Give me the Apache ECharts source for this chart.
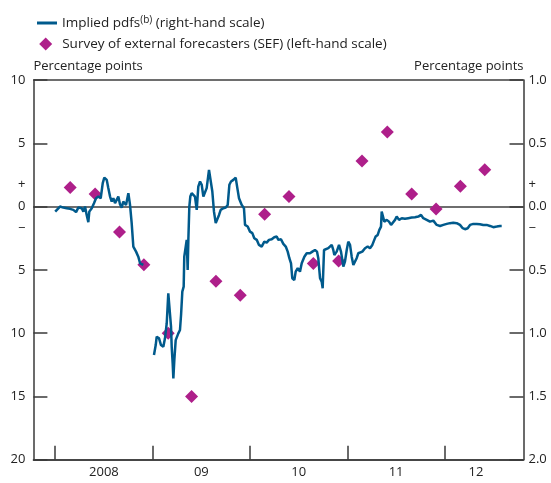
<!DOCTYPE html>
<html>
<head>
<meta charset="utf-8">
<script src="https://cdn.jsdelivr.net/npm/echarts@6/dist/echarts.min.js"></script>
<style>
html,body{margin:0;padding:0;background:#fff;}
#chart{width:551px;height:483px;}
</style>
</head>
<body>
<div id="chart"></div>
<script>
// ---- Data ----
// Implied pdfs (right-hand scale): [decimal year, percentage points]
var pdfYears = [
2008.000,2008.015,2008.049,2008.083,2008.118,2008.152,2008.186,2008.214,2008.237,2008.272,
2008.289,2008.306,2008.323,2008.340,2008.350,2008.375,2008.398,2008.419,2008.443,2008.467,
2008.488,2008.504,2008.529,2008.545,2008.563,2008.580,2008.597,2008.614,2008.631,2008.648,
2008.665,2008.683,2008.699,2008.727,2008.751,2008.768,2008.785,2008.802,2008.830,2008.853,
2008.871,2008.905,2008.960,
2009.014,2009.032,2009.042,2009.066,2009.086,2009.110,2009.127,2009.145,2009.161,2009.179,
2009.189,2009.196,2009.206,2009.213,2009.223,2009.237,2009.251,2009.264,2009.281,2009.292,
2009.305,2009.319,2009.325,2009.340,2009.350,2009.360,2009.367,2009.377,2009.387,2009.401,
2009.418,2009.435,2009.453,2009.469,2009.487,2009.504,2009.521,2009.538,2009.555,2009.579,
2009.597,2009.613,2009.630,2009.648,2009.664,2009.682,2009.699,2009.726,2009.751,2009.771,
2009.788,2009.805,2009.829,2009.853,2009.870,2009.887,2009.915,2009.938,2009.949,2009.976,
2010.000,2010.024,2010.044,2010.069,2010.092,2010.120,2010.147,2010.171,2010.195,2010.223,
2010.249,2010.274,2010.291,2010.318,2010.342,2010.367,2010.387,2010.404,2010.421,2010.434,
2010.455,2010.469,2010.490,2010.513,2010.531,2010.558,2010.582,2010.599,2010.616,2010.640,
2010.667,2010.688,2010.701,2010.719,2010.736,2010.746,2010.760,2010.777,2010.804,2010.839,
2010.855,2010.866,2010.890,2010.914,2010.934,2010.948,2010.958,2010.975,2010.993,2011.009,
2011.027,2011.044,2011.061,2011.078,2011.095,2011.112,2011.129,2011.153,2011.181,2011.208,
2011.232,2011.256,2011.276,2011.290,2011.311,2011.328,2011.345,2011.352,2011.362,2011.379,
2011.404,2011.427,2011.448,2011.465,2011.489,2011.506,2011.530,2011.558,2011.591,2011.625,
2011.660,2011.694,2011.728,2011.756,2011.779,2011.814,2011.848,2011.882,2011.899,2011.917,
2011.951,2011.985,2012.020,2012.053,2012.087,2012.122,2012.156,2012.184,2012.207,2012.235,
2012.259,2012.293,2012.328,2012.361,2012.395,2012.430,2012.464,2012.498,2012.533,2012.567,
2012.584
];
var pdfValues = [
-0.040,-0.026,0.000,-0.008,-0.013,-0.018,-0.026,-0.044,-0.008,-0.013,
-0.040,0.000,-0.066,-0.123,-0.040,-0.013,0.027,0.066,0.079,0.066,
0.185,0.229,0.211,0.146,0.079,0.040,0.066,0.027,0.040,0.079,
0.019,-0.008,0.040,0.013,0.106,0.013,-0.131,-0.316,-0.356,-0.396,
-0.448,-0.461,null,
-1.173,-1.094,-1.028,-1.041,-1.094,-1.108,-1.041,-0.922,-0.685,-0.672,
-0.949,-1.108,-1.239,-1.358,-1.213,-1.055,-1.068,-1.002,-0.975,-0.857,
-0.672,-0.633,-0.396,-0.316,-0.263,-0.501,-0.263,0.000,0.079,0.106,
0.119,0.079,-0.026,0.158,0.198,0.172,0.079,0.093,0.146,0.290,
0.277,0.119,-0.040,-0.131,-0.145,-0.066,-0.026,-0.013,-0.008,0.013,
0.172,0.198,0.211,0.229,0.146,0.066,0.013,-0.013,-0.145,-0.158,
-0.198,-0.210,-0.250,-0.263,-0.303,-0.316,-0.277,-0.285,-0.263,-0.258,
-0.242,-0.237,-0.263,-0.258,-0.295,-0.316,-0.356,-0.408,-0.448,-0.566,
-0.580,-0.514,-0.487,-0.514,-0.448,-0.396,-0.369,-0.382,-0.369,-0.356,
-0.343,-0.356,-0.408,-0.566,-0.593,-0.646,-0.343,-0.329,-0.329,-0.303,
-0.343,-0.382,-0.356,-0.303,-0.356,-0.422,-0.475,-0.435,-0.343,-0.277,
-0.303,-0.396,-0.461,-0.475,-0.408,-0.369,-0.382,-0.356,-0.329,-0.316,
-0.329,-0.303,-0.263,-0.237,-0.224,-0.184,-0.158,-0.040,-0.026,-0.119,
-0.105,-0.119,-0.145,-0.158,-0.105,-0.079,-0.105,-0.092,-0.097,-0.092,
-0.087,-0.084,-0.079,-0.066,-0.092,-0.105,-0.119,-0.111,-0.119,-0.145,
-0.153,-0.145,-0.137,-0.131,-0.127,-0.131,-0.145,-0.171,-0.179,-0.171,
-0.145,-0.137,-0.137,-0.139,-0.145,-0.145,-0.153,-0.163,-0.158,-0.153,
-0.153
];
// Survey of external forecasters (left-hand scale)
var sefYears = [2008.154,2008.410,2008.660,2008.910,2009.160,2009.400,2009.650,2009.900,2010.150,
                2010.400,2010.650,2010.910,2011.150,2011.410,2011.660,2011.910,2012.160,2012.410];
var sefValues = [1.5,1.0,-2.0,-4.6,-10.0,-15.0,-5.9,-7.0,-0.6,0.8,-4.5,-4.3,3.6,5.9,1.0,-0.2,1.6,2.9];

var xTickYears = [2008,2009,2010,2011,2012];
var xLabelPos = [2008.5,2009.5,2010.5,2011.5,2012.32];
var xLabelText = ['2008','09','10','11','12'];
var leftTicks = [10,5,0,-5,-10,-15,-20];
var rightTicks = [1,0.5,0,-0.5,-1,-1.5,-2];
var xMin = 2007.776, xMax = 2012.808;

var lineName = 'Implied pdfs(b) (right-hand scale)';
var sefName = 'Survey of external forecasters (SEF) (left-hand scale)';

var pdfData = pdfYears.map(function(y,i){ return [y, pdfValues[i]]; });
var sefData = sefYears.map(function(y,i){ return [y, sefValues[i]]; });

var FONT = 'Open Sans';
var TXT = '#222';
var AX = '#3a3a3a';
var BLUE = '#005a8c';
var MAG = '#ae1f8a';

var chart = echarts.init(document.getElementById('chart'));
chart.setOption({
  animation:false,
  backgroundColor:'#fff',
  textStyle:{fontFamily:FONT},
  legend:[{
    left:32, top:10, orient:'vertical',
    itemWidth:20, itemHeight:3,
    data:[{name:lineName, icon:'rect', itemStyle:{color:BLUE}}],
    formatter:function(){ return '{a|Implied pdfs}{b|(b)}{a| (right-hand scale)}'; },
    textStyle:{fontFamily:FONT, fontSize:13.5, color:TXT,
      rich:{a:{fontFamily:FONT,fontSize:13.5,color:TXT,lineHeight:16},
            b:{fontFamily:FONT,fontSize:10,color:TXT,verticalAlign:'top',lineHeight:10}}}
  },{
    left:34.2, top:32, orient:'vertical',
    itemWidth:13, itemHeight:13,
    data:[{name:sefName, icon:'diamond'}],
    textStyle:{fontFamily:FONT, fontSize:13.5, color:TXT, padding:[0,0,0,5]}
  }],
  grid:{left:33.4, right:27.5, top:80, bottom:23.3, containLabel:false},
  xAxis:{
    type:'value', min:xMin, max:xMax,
    axisLine:{show:true, onZero:false, lineStyle:{color:AX, width:1.5}},
    axisTick:{show:true, inside:true, length:14, customValues:xTickYears, lineStyle:{color:AX,width:1.5}},
    axisLabel:{customValues:xLabelPos, margin:6, color:TXT, fontSize:13, fontFamily:FONT,
      formatter:function(v){ for(var i=0;i<xLabelPos.length;i++){ if(Math.abs(v-xLabelPos[i])<0.01) return xLabelText[i]; } return ''; }},
    splitLine:{show:false}
  },
  yAxis:[{
    type:'value', position:'left', min:-20, max:10, interval:5,
    name:'Percentage points', nameLocation:'end', nameGap:7,
    nameTextStyle:{align:'left', color:TXT, fontSize:13, fontFamily:FONT},
    axisLine:{show:true, onZero:false, lineStyle:{color:AX,width:1.5}},
    axisTick:{show:true, inside:true, length:14, customValues:leftTicks, lineStyle:{color:AX,width:1.5}},
    axisLabel:{customValues:[10,5,1.75,0,-1.75,-5,-10,-15,-20], margin:8, color:TXT, fontSize:13, fontFamily:FONT,
      formatter:function(v){ if(Math.abs(v-1.75)<0.01) return '+'; if(Math.abs(v+1.75)<0.01) return '\u2212'; return String(Math.abs(v)); }},
    splitLine:{show:false}
  },{
    type:'value', position:'right', min:-2, max:1, interval:0.5,
    name:'Percentage points', nameLocation:'end', nameGap:7,
    nameTextStyle:{align:'right', color:TXT, fontSize:13, fontFamily:FONT},
    axisLine:{show:true, onZero:false, lineStyle:{color:AX,width:1.5}},
    axisTick:{show:true, inside:true, length:14, customValues:rightTicks, lineStyle:{color:AX,width:1.5}},
    axisLabel:{customValues:[1,0.5,0.175,0,-0.175,-0.5,-1,-1.5,-2], margin:5, color:TXT, fontSize:13, fontFamily:FONT,
      formatter:function(v){ if(Math.abs(v-0.175)<0.001) return '+'; if(Math.abs(v+0.175)<0.001) return '\u2212'; return Math.abs(v).toFixed(1); }},
    splitLine:{show:false}
  },{
    // hidden helper axis: its split line at 0 draws the zero line
    type:'value', position:'left', min:-20, max:10, interval:20,
    axisLine:{show:false}, axisTick:{show:false}, axisLabel:{show:false},
    splitLine:{show:true, lineStyle:{color:'#6e6e6e', width:2}}
  }],
  series:[{
    name:sefName, type:'scatter', yAxisIndex:0, data:sefData,
    symbol:'diamond', symbolSize:[13,13], z:3,
    itemStyle:{color:MAG, opacity:1}
  },{
    name:lineName, type:'line', yAxisIndex:1, data:pdfData,
    showSymbol:false, symbol:'none', connectNulls:false, z:4,
    lineStyle:{color:BLUE, width:2.5},
    itemStyle:{color:BLUE}
  }]
});
</script>
</body>
</html>
